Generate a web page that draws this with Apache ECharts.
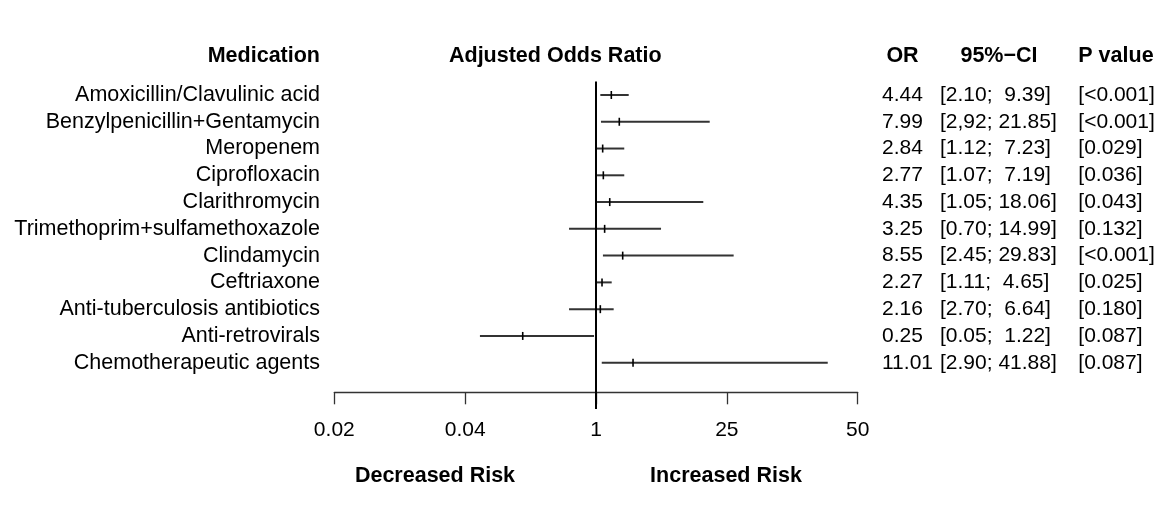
<!DOCTYPE html>
<html>
<head>
<meta charset="utf-8">
<script src="https://cdn.jsdelivr.net/npm/echarts@6/dist/echarts.min.js"></script>
<style>
  html, body { margin: 0; padding: 0; background: #fff; }
  #chart { width: 1161px; height: 513px; }
</style>
</head>
<body>
<div id="chart"></div>
<script>
// ---- Data ----
const medications = [
  'Amoxicillin/Clavulinic acid',
  'Benzylpenicillin+Gentamycin',
  'Meropenem',
  'Ciprofloxacin',
  'Clarithromycin',
  'Trimethoprim+sulfamethoxazole',
  'Clindamycin',
  'Ceftriaxone',
  'Anti-tuberculosis antibiotics',
  'Anti-retrovirals',
  'Chemotherapeutic agents'
];
// Table columns as printed
const orText = ['4.44', '7.99', '2.84', '2.77', '4.35', '3.25', '8.55', '2.27', '2.16', '0.25', '11.01'];
const ciText = [
  '[2.10;  9.39]', '[2,92; 21.85]', '[1.12;  7.23]', '[1.07;  7.19]', '[1.05; 18.06]',
  '[0.70; 14.99]', '[2.45; 29.83]', '[1.11;  4.65]', '[2.70;  6.64]', '[0.05;  1.22]', '[2.90; 41.88]'
];
const pText = ['[<0.001]', '[<0.001]', '[0.029]', '[0.036]', '[0.043]', '[0.132]', '[<0.001]', '[0.025]', '[0.180]', '[0.087]', '[0.087]'];

// Drawn whisker positions on the plotted axis
// (axis units: tick 0 = "0.02", 1 = "0.04", 2 = "1", 3 = "25", 4 = "50")
const lowPos  = [2.033, 2.038, 1.995, 2.008, 2.008, 1.794, 2.053, 1.995, 1.794, 1.113, 2.044];
const estPos  = [2.117, 2.178, 2.051, 2.056, 2.105, 2.066, 2.204, 2.046, 2.033, 1.440, 2.283];
const highPos = [2.250, 2.869, 2.216, 2.216, 2.820, 2.497, 3.052, 2.120, 2.135, 1.985, 3.771];
const refPos = 2; // OR = 1
const tickLabels = ['0.02', '0.04', '1', '25', '50'];

// ---- Chart ----
const FONT = '"Liberation Sans", Arial, Helvetica, sans-serif';
const FS = 21;
const FS_TXT = 21.5;
const chart = echarts.init(document.getElementById('chart'), null, { renderer: 'canvas' });

const whiskerData = medications.map((m, i) => [lowPos[i], estPos[i], highPos[i], i]);

const GL = 334.3, GR = 1161 - 857.7;

const tableAxis = (data, offset) => ({
  type: 'category', gridIndex: 0, inverse: true, position: 'right', offset: offset,
  data: data,
  axisLine: { show: false }, axisTick: { show: false }, splitLine: { show: false },
  axisLabel: { interval: 0, margin: 0, align: 'left', color: '#000', fontFamily: FONT, fontSize: FS }
});

const hdr = (text, x, y, align) => ({
  type: 'text', x: x, y: y,
  style: { text: text, textAlign: align, textVerticalAlign: 'middle', font: 'bold ' + FS_TXT + 'px ' + FONT, fill: '#000' }
});

const option = {
  backgroundColor: '#fff',
  animation: false,
  grid: [
    { left: GL, right: GR, top: 81.6, height: 294.5 },
    { left: GL, right: GR, top: 81.5, bottom: 513 - 409 }
  ],
  xAxis: [
    { type: 'value', gridIndex: 0, min: 0, max: 4, show: false },
    {
      type: 'value', gridIndex: 1, min: 0, max: 4, interval: 1, position: 'bottom', offset: -16.7,
      axisLine: { show: true, lineStyle: { color: '#333', width: 1.3 } },
      axisTick: { show: true, length: 12, lineStyle: { color: '#333', width: 1.3 } },
      splitLine: { show: false },
      axisLabel: {
        margin: 27, color: '#000', fontFamily: FONT, fontSize: FS, lineHeight: 21,
        formatter: v => tickLabels[Math.round(v)]
      }
    }
  ],
  yAxis: [
    {
      type: 'category', gridIndex: 0, inverse: true, data: medications,
      axisLine: { show: false }, axisTick: { show: false }, splitLine: { show: false },
      axisLabel: { interval: 0, margin: 14.3, color: '#000', fontFamily: FONT, fontSize: FS_TXT }
    },
    tableAxis(orText, 24.3),
    tableAxis(ciText, 82.3),
    tableAxis(pText, 220.6),
    { type: 'value', gridIndex: 1, min: 0, max: 1, show: false }
  ],
  series: [
    {
      type: 'line', xAxisIndex: 1, yAxisIndex: 4,
      data: [[refPos, 0], [refPos, 1]],
      symbol: 'none', silent: true,
      lineStyle: { color: '#000', width: 2 }
    },
    {
      type: 'custom', xAxisIndex: 0, yAxisIndex: 0,
      data: whiskerData,
      encode: { x: [0, 1, 2], y: 3 },
      silent: true,
      renderItem: function (params, api) {
        const cat = api.value(3);
        const pLow = api.coord([api.value(0), cat]);
        const pEst = api.coord([api.value(1), cat]);
        const pHigh = api.coord([api.value(2), cat]);
        return {
          type: 'group',
          children: [
            {
              type: 'line',
              shape: { x1: pLow[0], y1: pLow[1], x2: pHigh[0], y2: pHigh[1] },
              style: { stroke: '#333', lineWidth: 2 }
            },
            {
              type: 'line',
              shape: { x1: pEst[0], y1: pEst[1] - 4, x2: pEst[0], y2: pEst[1] + 4 },
              style: { stroke: '#000', lineWidth: 1.6 }
            }
          ]
        };
      }
    }
  ],
  graphic: [
    hdr('Medication', 320, 56.5, 'right'),
    hdr('Adjusted Odds Ratio', 555.3, 56.5, 'center'),
    hdr('OR', 902.5, 56.5, 'center'),
    hdr('95%\u2212CI', 999, 56.5, 'center'),
    hdr('P value', 1078.3, 56.5, 'left'),
    hdr('Decreased Risk', 435, 476, 'center'),
    hdr('Increased Risk', 726, 476, 'center')
  ]
};
chart.setOption(option);
</script>
</body>
</html>
